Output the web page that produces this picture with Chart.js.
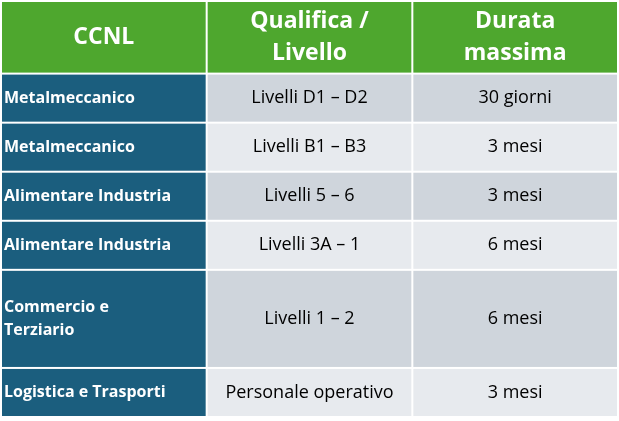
<!DOCTYPE html>
<html>
<head>
    <meta charset="UTF-8">
    <title>CCNL - Durata massima</title>
    <style>
        body { margin: 0; background: #fff; }
        #wrap { width: 619px; height: 421px; }
    </style>
    <script src="https://cdn.jsdelivr.net/npm/chart.js@4/dist/chart.umd.min.js"></script>
</head>
<body>
    <div id="wrap"><canvas id="table"></canvas></div>
    <script>
        const headers = [['CCNL'], ['Qualifica /', 'Livello'], ['Durata', 'massima']];
        const ccnl = [['Metalmeccanico'], ['Metalmeccanico'], ['Alimentare Industria'], ['Alimentare Industria'], ['Commercio e', 'Terziario'], ['Logistica e Trasporti']];
        const qualifica = ['Livelli D1 \u2013 D2', 'Livelli B1 \u2013 B3', 'Livelli 5 \u2013 6', 'Livelli 3A \u2013 1', 'Livelli 1 \u2013 2', 'Personale operativo'];
        const durata = ['30 giorni', '3 mesi', '3 mesi', '6 mesi', '6 mesi', '3 mesi'];
        const rowSpan = [1, 1, 1, 1, 2, 1];
        const headerSpan = 1.48;

        const total = headerSpan + rowSpan.reduce((a, b) => a + b, 0);

        const tablePlugin = {
            id: 'tableCells',
            afterDraw(chart) {
                const ctx = chart.ctx;
                const xs = chart.scales.x, ys = chart.scales.y;
                const cell = (c, top, span, fill, lines, font, color, align) => {
                    const x0 = xs.getPixelForValue(c) + 1, x1 = xs.getPixelForValue(c + 1) - 1;
                    const y0 = ys.getPixelForValue(top) + 1, y1 = ys.getPixelForValue(top + span) - 1;
                    ctx.fillStyle = fill;
                    ctx.fillRect(x0, y0, x1 - x0, y1 - y0);
                    ctx.fillStyle = color;
                    ctx.font = font;
                    ctx.textBaseline = 'middle';
                    ctx.textAlign = align;
                    const lh = parseInt(font.match(/(\d+)px/)[1]) * 1.4;
                    const cy = (y0 + y1) / 2;
                    const tx = align === 'left' ? x0 + 2 : (x0 + x1) / 2;
                    lines.forEach((t, i) => {
                        ctx.fillText(t, tx, cy + (i - (lines.length - 1) / 2) * lh);
                    });
                };
                ctx.save();
                headers.forEach((h, c) => cell(c, 0, headerSpan, '#4ea72e', h, 'bold 23px "Open Sans"', '#ffffff', 'center'));
                let top = headerSpan;
                rowSpan.forEach((span, r) => {
                    const bg = r % 2 === 0 ? '#cfd5dc' : '#e7eaee';
                    cell(0, top, span, '#1b5e7e', ccnl[r], 'bold 16px "Open Sans"', '#ffffff', 'left');
                    cell(1, top, span, bg, [qualifica[r]], '18px "Open Sans"', '#000000', 'center');
                    cell(2, top, span, bg, [durata[r]], '18px "Open Sans"', '#000000', 'center');
                    top += span;
                });
                ctx.restore();
            }
        };

        new Chart(document.getElementById('table'), {
            type: 'bar',
            data: { labels: [], datasets: [] },
            options: {
                responsive: true,
                maintainAspectRatio: false,
                animation: false,
                layout: { padding: { top: 1, bottom: 4, left: 1, right: 1 } },
                plugins: { legend: { display: false }, tooltip: { enabled: false } },
                scales: {
                    x: { type: 'linear', min: 0, max: 3, offset: false, display: false },
                    y: { type: 'linear', min: 0, max: total, reverse: true, offset: false, display: false }
                }
            },
            plugins: [tablePlugin]
        });
    </script>
</body>
</html>
